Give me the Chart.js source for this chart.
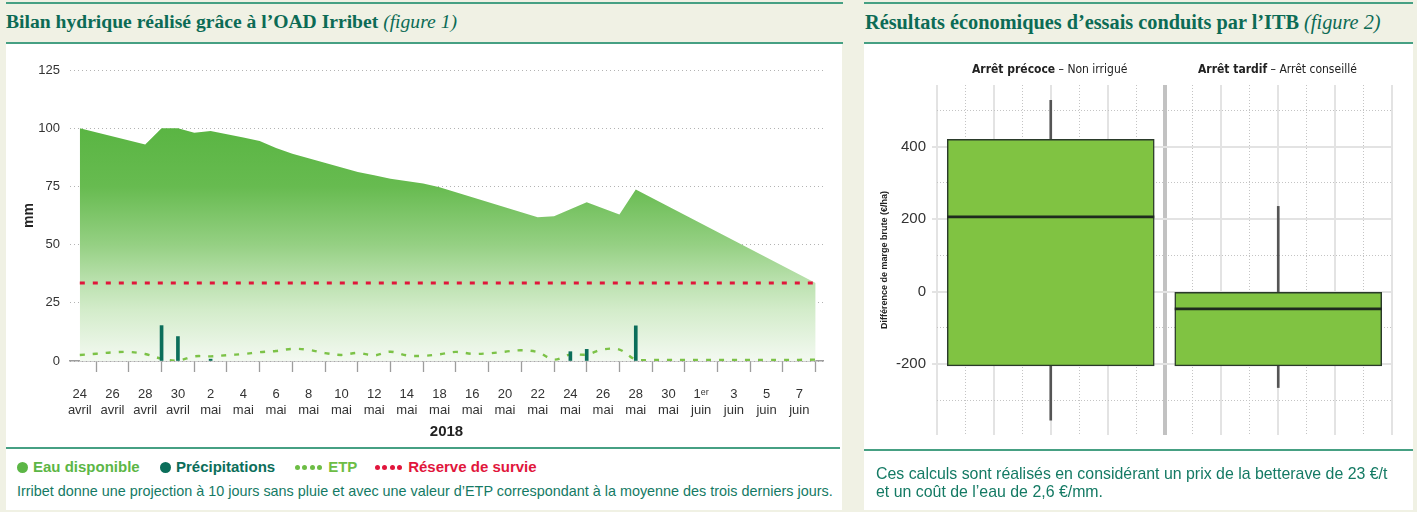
<!DOCTYPE html>
<html><head><meta charset="utf-8">
<script src="https://cdn.jsdelivr.net/npm/chart.js@4.4.1/dist/chart.umd.min.js"></script>
<style>
html,body{margin:0;padding:0;}
body{width:1417px;height:512px;background:#f0f1e4;position:relative;overflow:hidden;font-family:'Liberation Sans',Arial,sans-serif;}
.rule{position:absolute;height:2px;background:#46a083;}
.panel{position:absolute;background:#fff;}
.title{position:absolute;top:11px;font-family:'Liberation Serif','Times New Roman',serif;font-weight:bold;font-size:19.6px;color:#0c6b55;white-space:nowrap;}
.title i{font-weight:normal;}
canvas{position:absolute;}
.legend{position:absolute;left:17px;top:458px;font-size:15px;font-weight:bold;white-space:nowrap;}
.item{position:absolute;top:0;}
.dot{display:inline-block;width:11px;height:11px;border-radius:50%;vertical-align:-1px;margin-right:5px;}
.sd{display:inline-block;width:5px;height:5px;border-radius:50%;margin-right:2.4px;vertical-align:2px;}
.cap{position:absolute;font-size:14.4px;color:#147a64;white-space:nowrap;}
.hdr{position:absolute;top:62px;font-family:'Liberation Sans Narrow','DejaVu Sans Condensed','Roboto Condensed',sans-serif;font-size:12px;color:#222;white-space:nowrap;}
.hdr b{font-weight:bold;}
</style>
</head><body>
<!-- left panel -->
<div class="rule" style="left:6px;top:2px;width:837px;"></div>
<div class="title" style="left:6px;">Bilan hydrique réalisé grâce à l’OAD Irribet <i>(figure 1)</i></div>
<div class="rule" style="left:6px;top:42px;width:837px;"></div>
<div class="panel" style="left:6px;top:44px;width:836px;height:466px;"></div>
<canvas id="c1" width="836" height="404" style="left:6px;top:44px;"></canvas>
<div class="rule" style="left:6px;top:447px;width:834px;"></div>
<div class="legend">
  <div class="item" style="left:0;color:#5cb646"><span class="dot" style="background:#5cb646"></span>Eau disponible</div>
  <div class="item" style="left:143px;color:#0b6e5a"><span class="dot" style="background:#0b6e5a"></span>Précipitations</div>
  <div class="item" style="left:278px;color:#6dbd45"><span class="sd" style="background:#6dbd45"></span><span class="sd" style="background:#6dbd45"></span><span class="sd" style="background:#6dbd45"></span><span class="sd" style="background:#6dbd45;margin-right:6px"></span>ETP</div>
  <div class="item" style="left:358px;color:#e1163c"><span class="sd" style="background:#e1163c"></span><span class="sd" style="background:#e1163c"></span><span class="sd" style="background:#e1163c"></span><span class="sd" style="background:#e1163c;margin-right:6px"></span>Réserve de survie</div>
</div>
<div class="cap" style="left:17px;top:483px;">Irribet donne une projection à 10 jours sans pluie et avec une valeur d’ETP correspondant à la moyenne des trois derniers jours.</div>

<!-- right panel -->
<div class="rule" style="left:864px;top:2px;width:549px;"></div>
<div class="title" style="left:865px;font-size:20.3px;">Résultats économiques d’essais conduits par l’ITB <i>(figure 2)</i></div>
<div class="rule" style="left:864px;top:42px;width:549px;"></div>
<div class="panel" style="left:864px;top:44px;width:549px;height:466px;"></div>
<canvas id="c2" width="549" height="406" style="left:864px;top:44px;"></canvas>
<div class="hdr" style="left:972px;"><b>Arrêt précoce</b> – Non irrigué</div>
<div class="hdr" style="left:1198px;"><b>Arrêt tardif</b> – Arrêt conseillé</div>
<div class="rule" style="left:864px;top:449px;width:549px;"></div>
<div class="cap" style="left:876px;top:465px;font-size:15.9px;line-height:18px;">Ces calculs sont réalisés en considérant un prix de la betterave de 23 €/t<br>et un coût de l’eau de 2,6 €/mm.</div>

<script>
// ---------- Figure 1 data ----------
const xJours = ['24','26','28','30','2','4','6','8','10','12','14','18','16','20','22','24','26','28','30','1ᵉʳ','3','5','7'];
const xMois = ['avril','avril','avril','avril','mai','mai','mai','mai','mai','mai','mai','mai','mai','mai','mai','mai','mai','mai','mai','juin','juin','juin','juin'];
const anneeLabel = '2018';

const eauJours   = [0, 4, 5, 6, 7, 8, 10, 11, 12, 13, 17, 18, 19, 21, 22, 28, 29, 31, 33, 34, 45];
const eauValeurs = [100, 93, 100, 100, 98, 98.8, 96, 94.5, 91.5, 89, 81.2, 79.8, 78.3, 76.2, 74.6, 61.8, 62.2, 68.2, 62.9, 73.7, 33.5];

const pluieJours   = [5, 6, 8, 30, 31, 34];
const pluieValeurs = [15.2, 10.5, 0.8, 4, 5, 15.1];

const etpJours   = [0,1,2,3,4,5,6,7,8,9,10,11,12,13,14,15,16,17,18,19,20,21,22,23,24,25,26,27,28,29,30,31,32,33,34,35,36,37,38,39,40,41,42,43,44,45];
const etpValeurs = [2.6,3.1,3.7,3.9,3.0,1.0,0.2,2.0,2.0,2.5,3.0,3.8,4.3,5.2,4.8,3.4,2.6,3.5,2.4,4.0,2.4,2.2,2.9,3.9,3.1,3.3,4.0,4.6,3.8,0.6,2.8,2.8,5.0,4.9,0.6,0.5,0.5,0.5,0.5,0.5,0.5,0.5,0.5,0.5,0.5,0.6];

const reserveJours   = [0, 45];
const reserveValeurs = [33.5, 33.5];

// ---------- Figure 2 data ----------
const boxCategories = ['Arrêt précoce', 'Arrêt tardif'];
const boxMin    = [-355, -265];
const boxQ1     = [-205, -205];
const boxMedian = [206, -48];
const boxQ3     = [420, -2];
const boxMax    = [528, 235];
const yTicksLabels = [-200, 0, 200, 400];
const yTicksMinor  = [-300, -100, 100, 300, 500];

const pts = (xs, ys) => xs.map((x, i) => ({x, y: ys[i]}));
const sans = "'Liberation Sans', Arial, sans-serif";

// ---------- Chart 1 ----------
new Chart(document.getElementById('c1'), {
  type: 'line',
  data: {
    datasets: [
      {
        label: 'Précipitations', type: 'bar', data: pts(pluieJours, pluieValeurs),
        backgroundColor: '#0b6e5a', barThickness: 3, order: 0
      },
      {
        label: 'ETP', data: pts(etpJours, etpValeurs), borderColor: '#7cc247', borderWidth: 2.4,
        borderDash: [5, 8], pointRadius: 0, tension: 0.35, fill: false, order: 1
      },
      {
        label: 'Réserve de survie', data: pts(reserveJours, reserveValeurs), borderColor: '#e0173b',
        borderWidth: 3, borderDash: [5, 8], pointRadius: 0, fill: false, order: 2
      },
      {
        label: 'Eau disponible', data: pts(eauJours, eauValeurs), borderWidth: 0, pointRadius: 0,
        tension: 0, fill: 'origin', order: 10,
        backgroundColor: (ctx) => {
          const chart = ctx.chart;
          if (!chart.chartArea) return '#5cb646';
          const ys = chart.scales.y;
          const top = ys.getPixelForValue(100), bottom = ys.getPixelForValue(0);
          const g = chart.ctx.createLinearGradient(0, top, 0, bottom);
          g.addColorStop(0, '#5ab543');
          g.addColorStop(0.25, '#67bb50');
          g.addColorStop(0.5, '#95d083');
          g.addColorStop(0.67, '#bde2b1');
          g.addColorStop(0.78, '#d3ecca');
          g.addColorStop(1, '#f3f9f1');
          return g;
        }
      }
    ]
  },
  options: {
    responsive: false, animation: false,
    layout: { autoPadding: false, padding: { top: 26, right: 19, left: 0, bottom: 0 } },
    plugins: { legend: { display: false }, tooltip: { enabled: false } },
    scales: {
      x: {
        type: 'linear', min: -0.6, max: 45.45, offset: false,
        afterFit: (s) => { s.height = 87; },
        ticks: {
          stepSize: 2, includeBounds: false, autoSkip: false, maxRotation: 0, maxTicksLimit: 100,
          padding: 15, color: '#333', font: { family: sans, size: 13 },
          callback: (v) => { const i = Math.round(v / 2); return (i >= 0 && i < xJours.length) ? [xJours[i], xMois[i]] : ''; }
        },
        grid: { drawOnChartArea: false, drawTicks: true, tickLength: 11, tickColor: '#9d9d9d', tickWidth: 1.3 },
        border: { display: true, color: '#9d9d9d', width: 1.5 },
        title: { display: true, text: anneeLabel, color: '#222', font: { family: sans, size: 15, weight: 'bold' }, padding: { top: 4, bottom: 7 } }
      },
      y: {
        min: 0, max: 125,
        afterFit: (s) => { s.width = 64; },
        ticks: { stepSize: 25, padding: 10, color: '#333', font: { family: sans, size: 13 } },
        grid: { color: '#b3b3b3', lineWidth: 1, drawTicks: false },
        border: { display: false, dash: [1, 3] },
        title: { display: true, text: 'mm', color: '#222', font: { family: sans, size: 14, weight: 'bold' }, padding: { top: 15, bottom: 0 } }
      }
    }
  }
});

// ---------- Chart 2 ----------
const gridSolid  = [0, 2, 4, 6, 8, 10, 12, 14, 16];
const gridDotted = [1, 3, 5, 7, 9, 11, 13, 15];
const setTicks = (vals) => (s) => { s.ticks = vals.map(v => ({value: v})); };
new Chart(document.getElementById('c2'), {
  type: 'bar',
  data: {
    labels: boxCategories,
    datasets: [
      {
        type: 'line', label: 'Médiane', data: boxMedian, showLine: false,
        pointStyle: 'line', pointRadius: 103.5, pointHoverRadius: 103.5,
        pointBorderWidth: 2.6, pointBorderColor: '#1e2a1e', order: 0
      },
      {
        label: 'Q1–Q3', data: boxQ1.map((q, i) => [q, boxQ3[i]]),
        backgroundColor: '#80c342', borderColor: '#2a3a2a', borderWidth: 1.5, borderSkipped: false,
        barThickness: 207, grouped: false, order: 1
      },
      {
        label: 'Min–Max', data: boxMin.map((m, i) => [m, boxMax[i]]),
        backgroundColor: '#555', barThickness: 2, grouped: false, order: 2
      }
    ]
  },
  options: {
    responsive: false, animation: false,
    layout: { autoPadding: false, padding: { top: 41, right: 21, left: 0, bottom: 15 } },
    plugins: { legend: { display: false }, tooltip: { enabled: false } },
    scales: {
      x: { type: 'category', display: false, offset: true },
      xs: {
        axis: 'x', type: 'linear', position: 'bottom', min: 0, max: 16, offset: false,
        afterFit: (s) => { s.height = 0; },
        afterBuildTicks: setTicks(gridSolid),
        ticks: { display: false },
        grid: {
          offset: false, drawTicks: false,
          color: (c) => (c.tick && c.tick.value === 8) ? '#c2c2c2' : '#e3e3e3',
          lineWidth: (c) => (c.tick && c.tick.value === 8) ? 4 : 2
        },
        border: { display: false }
      },
      xd: {
        axis: 'x', type: 'linear', position: 'bottom', min: 0, max: 16, offset: false,
        afterFit: (s) => { s.height = 0; },
        afterBuildTicks: setTicks(gridDotted),
        ticks: { display: false },
        grid: { offset: false, drawTicks: false, color: '#c4c4c4', lineWidth: 1 },
        border: { display: false, dash: [1, 2] }
      },
      y: {
        min: -396, max: 570,
        afterFit: (s) => { s.width = 73; },
        afterBuildTicks: setTicks(yTicksLabels),
        ticks: { padding: 6, color: '#333', font: { family: sans, size: 15 } },
        grid: { color: '#e3e3e3', lineWidth: 2, drawTicks: true, tickLength: 5, tickColor: '#e3e3e3', tickWidth: 2 },
        border: { display: false },
        title: { display: true, text: 'Différence de marge brute (€/ha)', color: '#222', font: { family: sans, size: 9, weight: 'bold' }, padding: { top: 15, bottom: 0 } }
      },
      yd: {
        axis: 'y', position: 'right', min: -396, max: 570,
        afterFit: (s) => { s.width = 0; },
        afterBuildTicks: setTicks(yTicksMinor),
        ticks: { display: false },
        grid: { drawTicks: false, color: '#c4c4c4', lineWidth: 1 },
        border: { display: false, dash: [1, 2] }
      }
    }
  }
});
</script>
</body></html>
